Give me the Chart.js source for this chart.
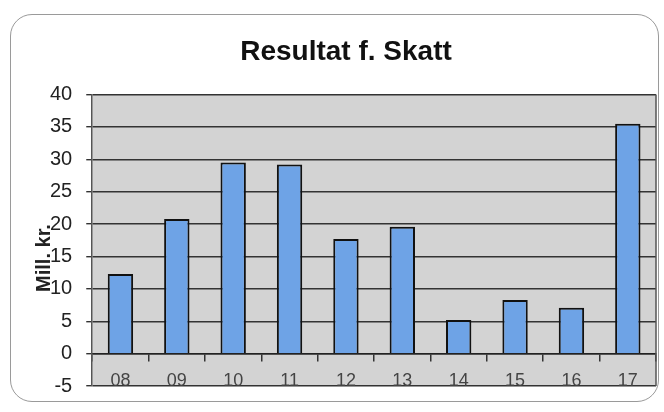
<!DOCTYPE html>
<html>
<head>
<meta charset="utf-8">
<script src="https://cdn.jsdelivr.net/npm/chart.js@4/dist/chart.umd.min.js"></script>
<style>
  html, body { margin: 0; padding: 0; background: #fff; }
  #wrap { position: relative; width: 664px; height: 412px; }
  #frame {
    position: absolute; left: 10px; top: 14px; width: 649px; height: 388px;
    border: 1.5px solid #9a9a9a; border-radius: 22px; box-sizing: border-box;
  }
  canvas { position: absolute; left: 0; top: 0; }
</style>
</head>
<body>
<div id="wrap">
  <div id="frame"></div>
  <canvas id="chart" width="664" height="412"></canvas>
</div>
<script>
const years = ['08', '09', '10', '11', '12', '13', '14', '15', '16', '17'];
const result = [12.3, 20.8, 29.5, 29.2, 17.7, 19.6, 5.2, 8.3, 7.1, 35.5];
const yTicks = [-5, 0, 5, 10, 15, 20, 25, 30, 35, 40];

// grå plotflate + y-akse tittel
const plotBg = {
  id: 'plotBg',
  beforeDraw(chart) {
    const { ctx, chartArea: a } = chart;
    ctx.save();
    ctx.fillStyle = '#d3d3d3';
    ctx.fillRect(a.left, a.top, a.right - a.left, a.bottom - a.top);
    ctx.restore();
  },
  afterDraw(chart) {
    const { ctx, chartArea: a } = chart;
    ctx.save();
    ctx.strokeStyle = '#555';
    ctx.lineWidth = 1.5;
    ctx.beginPath();
    ctx.moveTo(a.right, a.top);
    ctx.lineTo(a.right, a.bottom);
    ctx.stroke();
    ctx.translate(44, 258);
    ctx.rotate(-Math.PI / 2);
    ctx.font = 'bold 20px "Liberation Sans", Arial, sans-serif';
    ctx.fillStyle = '#222';
    ctx.textAlign = 'center';
    ctx.textBaseline = 'middle';
    ctx.fillText('Mill. kr.', 0, 0);
    ctx.restore();
  }
};

new Chart(document.getElementById('chart'), {
  type: 'bar',
  data: {
    labels: years,
    datasets: [{
      data: result,
      backgroundColor: '#6ea3e6',
      borderColor: '#111',
      borderWidth: 2,
      categoryPercentage: 1,
      barPercentage: 0.45,
    }]
  },
  options: {
    responsive: false,
    animation: false,
    layout: { padding: { left: 36, right: 8, top: 0, bottom: 25 } },
    plugins: {
      legend: { display: false },
      tooltip: { enabled: false },
      title: {
        display: true,
        text: 'Resultat f. Skatt',
        color: '#111',
        font: { family: '"Liberation Sans", Arial, sans-serif', size: 28, weight: 'bold' },
        padding: { top: 35, bottom: 26 }
      }
    },
    scales: {
      x: {
        position: { y: 0 },
        grid: { display: true, drawOnChartArea: false, offset: true, tickLength: 7, color: '#333', lineWidth: 1.5 },
        border: { display: true, color: '#222', width: 1.5 },
        ticks: {
          color: '#444', padding: 10,
          font: { family: '"Liberation Sans", Arial, sans-serif', size: 18 }
        }
      },
      y: {
        min: -5, max: 40,
        afterBuildTicks(scale) { scale.ticks = yTicks.map(v => ({ value: v })); },
        grid: { color: '#333', lineWidth: 1.4, tickLength: 6 },
        border: { display: true, color: '#555', width: 1.5 },
        ticks: {
          color: '#222', padding: 14,
          font: { family: '"Liberation Sans", Arial, sans-serif', size: 20 }
        }
      }
    }
  },
  plugins: [plotBg]
});
</script>
</body>
</html>
